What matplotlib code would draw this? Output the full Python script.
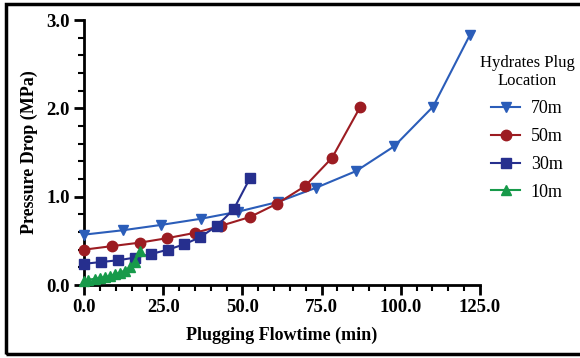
import matplotlib.pyplot as plt
from matplotlib.ticker import MultipleLocator, FormatStrFormatter
from matplotlib.patches import Rectangle

plt.rcParams['font.family'] = ['Liberation Serif', 'DejaVu Serif']

# pressure drop vs. plugging flowtime, per plug location
t70 = [0, 12.3, 24.3, 36.9, 48.6, 61.2, 73.2, 85.9, 97.9, 110.2, 121.8]
p70 = [0.57, 0.62, 0.68, 0.75, 0.83, 0.94, 1.10, 1.29, 1.57, 2.02, 2.83]

t50 = [0, 8.8, 17.7, 26.2, 35.0, 43.2, 52.4, 60.9, 69.8, 78.3, 87.1]
p50 = [0.40, 0.44, 0.48, 0.53, 0.59, 0.67, 0.77, 0.92, 1.12, 1.44, 2.01]

t30 = [0, 5.4, 10.7, 16.1, 21.1, 26.5, 31.6, 36.6, 42.0, 47.3, 52.4]
p30 = [0.24, 0.26, 0.28, 0.31, 0.35, 0.40, 0.46, 0.54, 0.67, 0.86, 1.21]

t10 = [0, 1.3, 3.4, 5.0, 6.5, 8.1, 9.7, 11.3, 12.8, 14.4, 16.0, 17.6]
p10 = [0.05, 0.06, 0.07, 0.08, 0.09, 0.10, 0.12, 0.14, 0.16, 0.20, 0.26, 0.38]

labels = ['70m', '50m', '30m', '10m']
colors = ['#2b5db9', '#9c1c22', '#262f8e', '#179a4a']

fig = plt.figure(figsize=(5.8, 3.58), dpi=100)
ax = fig.add_axes([0.1448, 0.2039, 0.6828, 0.7402])

ax.plot(t70, p70, '-v', color=colors[0], ms=7.5, lw=1.5, label=labels[0], clip_on=False, zorder=3)
ax.plot(t50, p50, '-o', color=colors[1], ms=7.5, lw=1.5, label=labels[1], clip_on=False, zorder=3)
ax.plot(t30, p30, '-s', color=colors[2], ms=7, lw=1.5, label=labels[2], clip_on=False, zorder=3)
ax.plot(t10, p10, '-^', color=colors[3], ms=7, lw=1.5, label=labels[3], clip_on=False, zorder=3)

ax.set_xlim(0, 125)
ax.set_ylim(0, 3.0)
ax.xaxis.set_major_locator(MultipleLocator(25))
ax.xaxis.set_minor_locator(MultipleLocator(5))
ax.yaxis.set_major_locator(MultipleLocator(1))
ax.yaxis.set_minor_locator(MultipleLocator(0.2))
ax.xaxis.set_major_formatter(FormatStrFormatter('%.1f'))
ax.yaxis.set_major_formatter(FormatStrFormatter('%.1f'))

for s in ['top', 'right']:
    ax.spines[s].set_visible(False)
for s in ['left', 'bottom']:
    ax.spines[s].set_linewidth(2)
ax.tick_params(which='major', length=7, width=2, labelsize=13.5, pad=3)
ax.tick_params(which='minor', length=4, width=1.5)
for lab in ax.get_xticklabels() + ax.get_yticklabels():
    lab.set_fontweight('bold')

ax.set_xlabel('Plugging Flowtime (min)', fontsize=13, fontweight='bold', labelpad=8)
ax.set_ylabel('Pressure Drop (MPa)', fontsize=13, fontweight='bold', labelpad=6)

leg = fig.legend(handles=ax.get_lines(), title='Hydrates Plug\nLocation', loc='upper center',
                 bbox_to_anchor=(527 / 580, 1 - 55 / 358), frameon=False, fontsize=13,
                 title_fontsize=12, handlelength=1.6, handletextpad=0.6, labelspacing=0.6,
                 borderaxespad=0, borderpad=0)
leg.get_title().set_multialignment('center')

# outer frame around the figure
fig.patches.append(Rectangle((6 / 580, 4 / 358), 1.2, 1 - 8 / 358, transform=fig.transFigure,
                             fill=False, lw=2.5, edgecolor='black'))

fig.savefig('out.png', dpi=100)
